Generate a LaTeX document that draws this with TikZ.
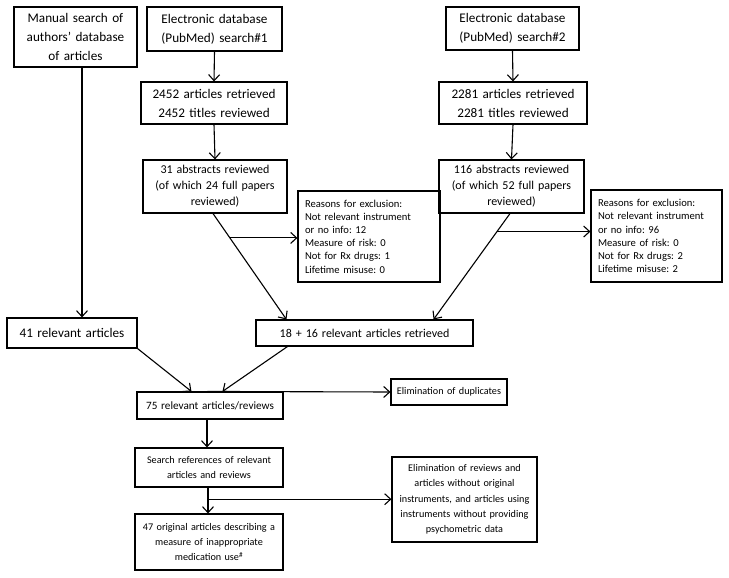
\documentclass[tikz,border=0pt]{standalone}
\usepackage{fontspec}
\setmainfont{Carlito}
\usetikzlibrary{arrows.meta,calc}
\newcommand\fmain{\fontsize{13.2}{19}\selectfont}
\newcommand\fmid{\fontsize{12}{16}\selectfont}
\newcommand\fsev{\fontsize{11.2}{15}\selectfont}
\newcommand\fsmall{\fontsize{10.6}{13.2}\selectfont}
\newcommand\fbot{\fontsize{10.2}{15.3}\selectfont}
\frenchspacing
\begin{document}
\begin{tikzpicture}[x=1pt,y=-1pt,
  box/.style 2 args={draw,line width=1.1pt,align=center,inner sep=0pt,text width=#1pt,minimum height=#2pt},
  lbox/.style 2 args={draw,line width=1.1pt,align=left,inner xsep=7pt,inner ysep=0pt,text width=#1pt-14pt,minimum height=#2pt},
  arr/.style={line width=1.1pt,-{Straight Barb[length=6pt,width=11pt]}}]
\useasboundingbox (0,0) rectangle (729,578);
% top row
\node[box={123}{60},font=\fmain] (man) at (75.5,37) {Manual search of\\authors' database\\of articles};
\node[box={135}{44},font=\fmain] (e1) at (214.5,29) {Electronic database\\(PubMed) search\#1};
\node[box={133}{43},font=\fmain] (e2) at (512.5,28.5) {Electronic database\\(PubMed) search\#2};
\node[box={146}{42},font=\fmain] (r1) at (214,103) {2452 articles retrieved\\2452 titles reviewed};
\node[box={148}{42},font=\fmain] (r2) at (513,103) {2281 articles retrieved\\2281 titles reviewed};
\node[box={144}{53},font=\fmid] (a1) at (215,186.5) {31 abstracts reviewed\\(of which 24 full papers\\reviewed)};
\node[box={145}{53},font=\fmid] (a2) at (511.5,186.5) {116 abstracts reviewed\\(of which 52 full papers\\reviewed)};
\node[lbox={142}{91},font=\fsmall] (x1) at (369,236.5) {Reasons for exclusion:\\Not relevant instrument\\or no info: 12\\Measure of risk: 0\\Not for Rx drugs: 1\\Lifetime misuse: 0};
\node[lbox={131}{92},font=\fsmall] (x2) at (656.5,236) {Reasons for exclusion:\\Not relevant instrument\\or no info: 96\\Measure of risk: 0\\Not for Rx drugs: 2\\Lifetime misuse: 2};
\node[box={130}{30},font=\fmain] (m41) at (72,333) {41 relevant articles};
\node[box={217}{26},font=\fmid] (m18) at (364.5,333) {18 + 16 relevant articles retrieved};
\node[box={146}{27},font=\fsev] (m75) at (210,405.5) {75 relevant articles/reviews};
\node[box={116}{26},font=\fbot] (dup) at (449,392) {Elimination of duplicates};
\node[box={148}{39},font=\fbot] (srch) at (209,467.5) {Search references of relevant\\articles and reviews};
\node[box={148}{56},font=\fbot] (f47) at (209,542) {47 original articles describing a\\measure of inappropriate\\medication use\textsuperscript{\#}};
\node[box={145}{85},font=\fbot] (rev) at (464.5,499.5) {Elimination of reviews and\\articles without original\\instruments, and articles using\\instruments without providing\\psychometric data};
% connectors
\coordinate (mx) at (82,0);
\draw[arr] (man.south -| mx) -- (m41.north -| mx);
\draw[arr] (e1.south) -- (r1.north);
\draw[arr] (e2.south) -- (r2.north);
\draw[arr] (r1.south) -- (a1.north);
\draw[arr] (r2.south) -- (a2.north);
\coordinate (s1) at ($(a1.south)+(-2,0)$);
\coordinate (t1) at ($(m18.north west)+(31,0)$);
\draw[arr] (s1) -- (t1);
\coordinate (b1) at ($(s1)!0.23!(t1)$);
\draw[arr] (b1) -- (x1.west |- b1);
\coordinate (s2) at ($(a2.south)+(-1.5,0)$);
\coordinate (t2) at ($(m18.north east)+(-40,0)$);
\draw[arr] (s2) -- (t2);
\coordinate (b2) at ($(s2)!0.17!(t2)$);
\draw[arr] (b2) -- (x2.west |- b2);
\draw[arr] (m41.south east) -- ($(m75.north west)+(55,0)$);
\draw[arr] ($(m18.south west)+(32,0)$) -- ($(m75.north west)+(86,0)$);
\draw[arr] ($(m75.north west)+(71,0)$) -- (dup.west);
\draw[arr] ($(m75.south)+(-3,0)$) -- ($(srch.north)+(-2,0)$);
\draw[arr] ($(srch.south)+(-1,0)$) -- ($(f47.north)+(-1,0)$);
\coordinate (b3) at ($(srch.south)!0.45!(f47.north)+(-1,0)$);
\draw[arr] (b3) -- (rev.west |- b3);
\end{tikzpicture}
\end{document}
